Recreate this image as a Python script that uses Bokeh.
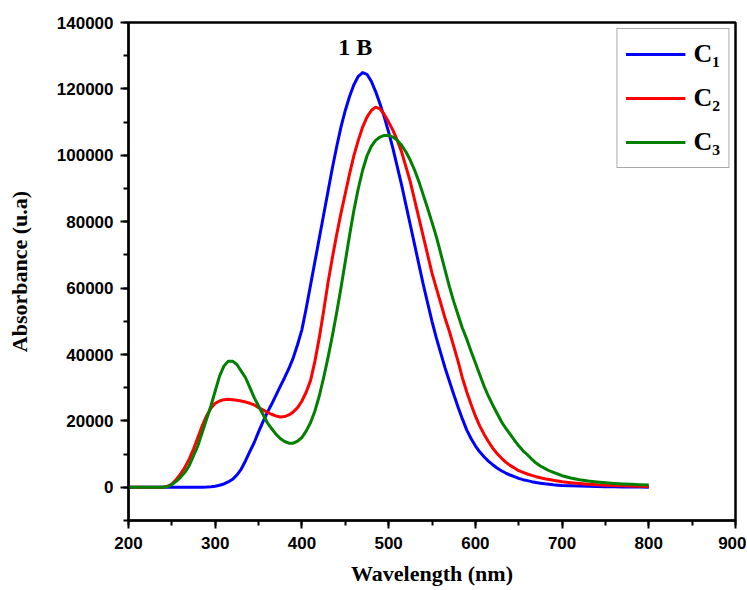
from bokeh.plotting import figure
from bokeh.models import (SingleIntervalTicker, BasicTickFormatter, Legend, LegendItem,
                          Label, Range1d)
from bokeh.embed import file_html
from bokeh.resources import INLINE

wavelength = [200, 210, 220, 230, 240, 245, 250, 255, 260, 265, 270, 275, 280, 285, 290, 295,
              300, 305, 310, 315, 320, 325, 330, 335, 340, 345, 350, 355, 360, 365, 370, 375,
              380, 385, 390, 395, 400, 405, 410, 415, 420, 425, 430, 435, 440, 445, 450, 455,
              460, 465, 470, 475, 480, 485, 490, 495, 500, 505, 510, 515, 520, 525, 530, 535,
              540, 545, 550, 555, 560, 565, 570, 575, 580, 585, 590, 595, 600, 605, 610, 615,
              620, 625, 630, 635, 640, 645, 650, 655, 660, 665, 670, 675, 680, 685, 690, 695,
              700, 710, 720, 730, 740, 750, 760, 770, 780, 790, 800]

c1 = [0, 0, 0, 0, 0, 0, 0, 0, 0, 0, 0, 0, 0, 20, 60, 150,
      300, 600, 1000, 1600, 2400, 3700, 5500, 8000, 10800, 13500, 16700, 19700, 22500, 25000, 27700, 30400,
      33000, 35800, 39000, 43000, 47500, 54000, 61000, 68000, 75000, 82000, 89000, 96000, 102500, 108500, 113500, 117800,
      121300, 123800, 124900, 124400, 122300, 119200, 115500, 111500, 107000, 102000, 96500, 91000, 85000, 79000, 73000, 67000,
      61000, 55500, 50000, 45000, 40500, 36000, 32000, 28000, 24200, 20600, 17300, 14700, 12500, 10700, 9200, 7900,
      6800, 5800, 5000, 4300, 3700, 3200, 2700, 2300, 2000, 1700, 1450, 1250, 1050, 900, 750, 650,
      550, 450, 360, 290, 230, 180, 140, 110, 80, 60, 40]

c2 = [0, 0, 0, 0, 0, 300, 1000, 2300, 4000, 6000, 8500, 11500, 15000, 18500, 21500, 23800,
      25300, 26000, 26400, 26500, 26400, 26200, 26000, 25700, 25300, 24800, 24000, 23300, 22600, 22000, 21500, 21200,
      21300, 21800, 22700, 24000, 26000, 28700, 32200, 38000, 45000, 53000, 61500, 69000, 76000, 82500, 88500, 94500,
      100000, 104500, 108500, 111500, 113500, 114500, 114000, 112300, 110000, 107500, 104500, 101000, 96500, 92000, 86500, 81000,
      75500, 70000, 64500, 60000, 55500, 51000, 47000, 42500, 38000, 33000, 28800, 25000, 21500, 18500, 16000, 13800,
      11800, 10200, 8800, 7600, 6600, 5800, 5000, 4500, 4000, 3600, 3200, 2900, 2600, 2350, 2100, 1900,
      1700, 1400, 1150, 950, 800, 650, 550, 450, 380, 320, 270]

c3 = [0, 0, 0, 0, 0, 200, 800, 1800, 3000, 4500, 6500, 9500, 12500, 16500, 20500, 24500,
      29000, 33500, 36500, 38000, 38000, 37000, 35000, 33000, 30000, 27000, 24500, 22000, 19500, 17700, 16000, 14700,
      13800, 13300, 13300, 13900, 15000, 17000, 19500, 23000, 27500, 33000, 39000, 45500, 52500, 60000, 68000, 76000,
      83500, 90000, 95500, 99800, 102700, 104500, 105500, 106000, 106000, 105500, 104500, 103000, 101000, 98500, 95500, 92000,
      88000, 84000, 79800, 75500, 70500, 65500, 60500, 56000, 52000, 48000, 44700, 41000, 37500, 34000, 30500, 27500,
      24800, 22300, 19800, 17800, 16000, 14200, 12500, 11000, 9800, 8500, 7300, 6400, 5700, 5000, 4500, 4000,
      3500, 2800, 2300, 1900, 1600, 1350, 1150, 1000, 900, 800, 700]

series_names = ["C\u2081", "C\u2082", "C\u2083"]
series_colors = ["#0000ff", "#ff0000", "#008000"]
annotation_text = "1 B"

p = figure(width=746, height=589, output_backend="svg", toolbar_location=None,
           x_range=Range1d(200, 900), y_range=Range1d(-10000, 140000),
           min_border_left=128, min_border_right=11, min_border_top=22,
           min_border_bottom=69)

p.xgrid.visible = False
p.ygrid.visible = False
p.outline_line_color = "black"
p.outline_line_width = 2.5
p.background_fill_color = "white"
p.border_fill_color = "white"

renderers = []
for ys, col in zip([c1, c2, c3], series_colors):
    r = p.line(wavelength, ys, line_color=col, line_width=3, line_join="round")
    renderers.append(r)

p.xaxis.ticker = SingleIntervalTicker(interval=100, num_minor_ticks=2)
p.yaxis.ticker = SingleIntervalTicker(interval=20000, num_minor_ticks=2)
p.yaxis.formatter = BasicTickFormatter(use_scientific=False)

for ax in (p.xaxis[0], p.yaxis[0]):
    ax.axis_line_width = 2
    ax.axis_line_color = "black"
    ax.major_tick_line_width = 2
    ax.minor_tick_line_width = 2
    ax.major_tick_out = 8
    ax.major_tick_in = 0
    ax.minor_tick_out = 5
    ax.minor_tick_in = 0
    ax.major_label_text_font = "Liberation Sans"
    ax.major_label_text_font_style = "bold"
    ax.major_label_text_font_size = "17px"
    ax.major_label_text_color = "black"
    ax.axis_label_text_font = "Liberation Serif"
    ax.axis_label_text_font_style = "bold"
    ax.axis_label_text_font_size = "22px"
    ax.axis_label_text_color = "black"

p.xaxis.axis_label = "Wavelength (nm)"
p.yaxis.axis_label = "Absorbance (u.a)"
p.xaxis.major_label_standoff = 8
p.xaxis.axis_label_standoff = 9
p.yaxis.major_label_standoff = 7
p.yaxis.axis_label_standoff = 22

legend = Legend(items=[LegendItem(label=n, renderers=[r]) for n, r in zip(series_names, renderers)],
                location="top_right")
legend.label_text_font = "Liberation Serif"
legend.label_text_font_style = "bold"
legend.label_text_font_size = "26px"
legend.label_text_color = "black"
legend.glyph_width = 60
legend.glyph_height = 34
legend.label_height = 34
legend.label_standoff = 8
legend.spacing = 10
legend.padding = 8
legend.margin = 6
legend.border_line_color = "#555555"
legend.border_line_width = 1
legend.background_fill_alpha = 1
p.add_layout(legend)

p.add_layout(Label(x=442, y=132500, text=annotation_text, text_font="Liberation Serif",
                   text_font_style="bold", text_font_size="24px", text_baseline="middle",
                   text_align="left", text_color="black"))

open("out.html", "w").write(file_html(p, INLINE))
